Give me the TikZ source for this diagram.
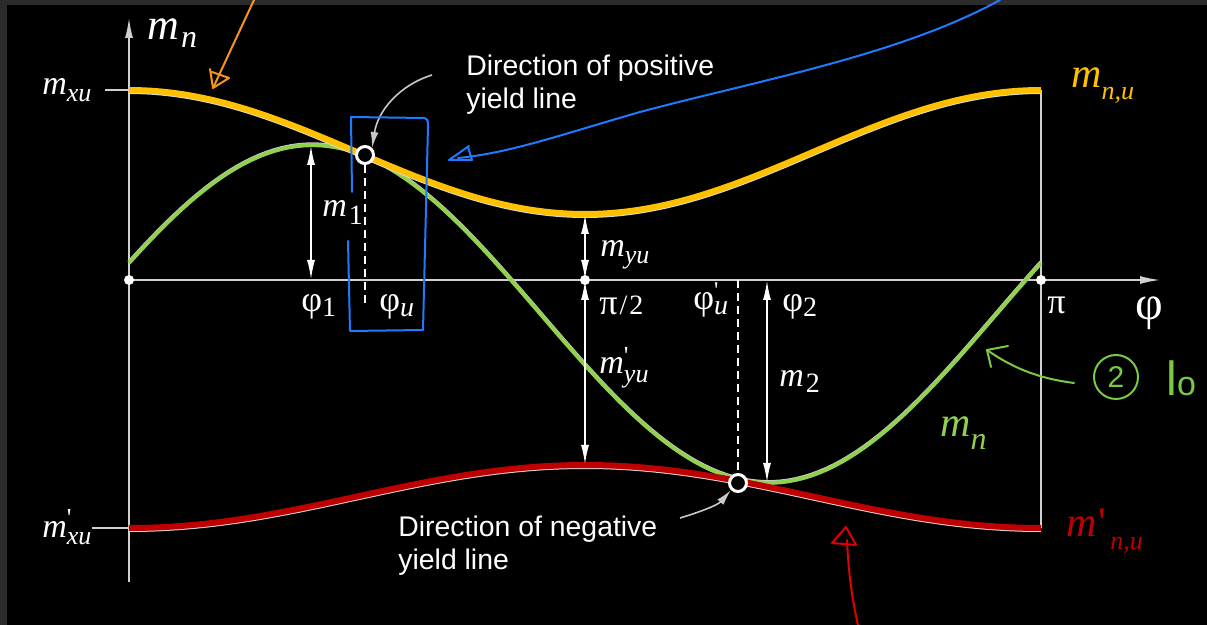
\documentclass[tikz,border=0pt]{standalone}
\usepackage{fontspec}
\setmainfont{Liberation Sans}
\newfontfamily\tms{Liberation Serif}
\usetikzlibrary{arrows.meta}
\definecolor{bggray}{HTML}{2B2B2B}
\definecolor{cOrange}{HTML}{FFC000}
\definecolor{cGreen}{HTML}{92D050}
\definecolor{cRed}{HTML}{C00000}
\definecolor{cAxis}{HTML}{D0D0D0}
\definecolor{cCall}{HTML}{C8C8C8}
\definecolor{hBlue}{HTML}{1E7BFF}
\definecolor{hOrange}{HTML}{F7941D}
\definecolor{hGreen}{HTML}{7AC943}
\definecolor{hRed}{HTML}{E00000}
\newcommand\fsz[1]{\fontsize{#1pt}{#1pt}\selectfont\tms}
\newcommand\lowr[2]{\raisebox{-#1pt}{#2}}
\begin{document}
\begin{tikzpicture}[x=0.5pt,y=-0.5pt,
  axisline/.style={draw=cAxis, line width=0.75pt},
  axtip/.style={-{Latex[length=10pt,width=4pt]}},
  dimarrow/.style={draw=white, line width=1pt, {Latex[length=10pt,width=4pt]}-{Latex[length=10pt,width=4pt]}},
  dashline/.style={draw=white, line width=0.75pt, dash pattern=on 4pt off 2.5pt},
  lbl/.style={inner sep=0pt, text=white, anchor=base west},
  dotnode/.style={circle, fill=white, inner sep=0pt, minimum size=5pt},
  ringnode/.style={circle, draw=white, fill=black, line width=1.5pt, inner sep=0pt, minimum size=8.5pt},
  callout/.style={draw=cCall, line width=0.8pt, -{Latex[length=8pt,width=4pt]}},
  hand/.style={line width=1pt, line cap=round, line join=round},
  txt/.style={inner sep=0pt, text=white, anchor=north west, align=left, font=\fontsize{14.2pt}{16.5pt}\selectfont},
  ]
\fill[bggray] (0,0) rectangle (1207,625);
\fill[black] (7,5) rectangle (1207,625);
\useasboundingbox (0,0) rectangle (1207,625);

% coordinates
\coordinate (O) at (129,280);
\coordinate (ytop) at (129,18);
\coordinate (ybot) at (129,582);
\coordinate (xend) at (1160,280);
\coordinate (half) at (585,280);
\coordinate (pi) at (1041,280);
\coordinate (oxu) at (129,90);
\coordinate (oxuT) at (105,90);
\coordinate (rxu) at (129,528);
\coordinate (rxuT) at (92,528);
\coordinate (oend) at (1041,90);
\coordinate (rend) at (1041,528);
\coordinate (gmax) at (311,145);
\coordinate (gmaxA) at (311,280);
\coordinate (oyu) at (585,214);
\coordinate (ryu) at (585,465);
\coordinate (gmin) at (767,483);
\coordinate (gminA) at (767,280);
\coordinate (phiuA) at (365,303);
\coordinate (phiupA) at (738,280);

% axes
\draw[axisline, axtip] (ybot) -- (ytop);
\draw[axisline, axtip] (O) -- (xend);
\draw[axisline] (oxuT) -- (oxu);
\draw[axisline] (rxuT) -- (rxu);
\draw[axisline] (oend) -- (rend);

% curves
\draw[white!80!black, line width=2pt] plot[domain=0:180, samples=120, variable=\t] ({129+5.06667*\t}, {280-(-34+51*cos(2*\t)+161*sin(2*\t))-0.8});
\draw[cGreen, line width=2pt] plot[domain=0:180, samples=120, variable=\t] ({129+5.06667*\t}, {280-(-34+51*cos(2*\t)+161*sin(2*\t))});
\draw[white!85!black, line width=3pt] plot[domain=0:180, samples=120, variable=\t] ({129+5.06667*\t}, {280-(128+62*cos(2*\t))+1});
\draw[cOrange, line width=3pt] plot[domain=0:180, samples=120, variable=\t] ({129+5.06667*\t}, {280-(128+62*cos(2*\t))});
\draw[white!85!black, line width=3pt] plot[domain=0:180, samples=120, variable=\t] ({129+5.06667*\t}, {280+216.5+31.5*cos(2*\t)+1});
\draw[cRed, line width=3pt] plot[domain=0:180, samples=120, variable=\t] ({129+5.06667*\t}, {280+216.5+31.5*cos(2*\t)});

% dimension arrows
\draw[dimarrow] (gmax) -- (gmaxA);
\draw[dimarrow] (oyu) -- (half);
\draw[dimarrow] (half) -- (ryu);
\draw[dimarrow] (gminA) -- (gmin);

% dots and rings
\node[dotnode] (d0) at (O) {};
\node[dotnode] (d1) at (half) {};
\node[dotnode] (d2) at (pi) {};
\node[ringnode] (rpos) at (365,155) {};
\node[ringnode] (rneg) at (738,483) {};
\draw[dashline] (rpos) -- (phiuA);
\draw[dashline] (phiupA) -- (rneg);

% callout texts and arrows
\node[txt] (tpos) at (466,55) {Direction of positive\\yield line};
\node[txt] (tneg) at (398,516) {Direction of negative\\yield line};
\coordinate (cp0) at (432,75);
\coordinate (cn0) at (680,518);
\draw[callout] (cp0) .. controls (400,85) and (378,110) .. (rpos.north east);
\draw[callout] (cn0) .. controls (700,512) and (718,505) .. (rneg.south west);

% math labels
\node[lbl] (lmn) at (147,40) {\fsz{22}\itshape m\kern1pt\lowr{4}{\fsz{16}n}};
\node[lbl] (lmxu) at (42,95) {\fsz{17}\itshape m\lowr{3.5}{\fsz{13}xu}};
\node[lbl] (lmxup) at (42,538) {\fsz{17}\itshape m\lowr{3.5}{\fsz{13}\rlap{\raisebox{9pt}{\upshape '}}xu}};
\node[lbl, text=cOrange] (lmnu) at (1071,88) {\fsz{21}\itshape m\lowr{6}{\fsz{13}n,u}};
\node[lbl, text=cRed] (lmnup) at (1066,537) {\fsz{21}\itshape m\kern1pt{\fsz{21}\upshape '}\kern2pt\lowr{6.5}{\fsz{13}n,u}};
\node[lbl, text=cGreen] (lmng) at (940,437) {\fsz{21}\itshape m\lowr{6.5}{\fsz{16}n}};
\node[lbl] (lm1) at (322,217) {\fsz{17}\itshape m\kern1pt\lowr{4}{\fsz{14}\upshape 1}};
\node[lbl] (lm2) at (779,387) {\fsz{17}\itshape m\kern1pt\lowr{3}{\fsz{14}\upshape 2}};
\node[lbl] (lmyu) at (600,257) {\fsz{17}\itshape m\lowr{3.5}{\fsz{13}yu}};
\node[lbl] (lmyup) at (599,374) {\fsz{17}\itshape m\lowr{4.5}{\fsz{13}\rlap{\raisebox{9pt}{\upshape '}}yu}};
\node[lbl] (lphi1) at (301,312) {\fsz{18}φ\lowr{2.5}{\fsz{14}1}};
\node[lbl] (lphiu) at (379,312) {\fsz{18}φ\lowr{2.5}{\fsz{14}\itshape u}};
\node[lbl] (lhalf) at (599,315) {\fsz{18}π\kern1pt{\fsz{14}/\kern1pt2}};
\node[lbl] (lphiup) at (693,310) {\fsz{18}φ\lowr{2.5}{\fsz{14}\rlap{\raisebox{8pt}{\fsz{12}'}}\itshape u}};
\node[lbl] (lphi2) at (782,312) {\fsz{18}φ\lowr{2.5}{\fsz{14}2}};
\node[lbl] (lpi) at (1047,314) {\fsz{18}π};
\node[lbl] (lphi) at (1135,320) {\fsz{24}φ};

% hand-drawn annotations
% orange
\coordinate (ho0) at (254,0);
\coordinate (ho1) at (214,86);
\draw[hand, hOrange] (ho0) .. controls (240,30) and (226,60) .. (ho1);
\draw[hand, hOrange] (210,69) -- (213,88) -- (229,78) -- (212,72);
% blue box
\draw[hand, hBlue] (352,192) -- (351,117) -- (424,118) .. controls (428,119) and (428,121) .. (428,126) -- (423,330) -- (350,331) -- (348,241);
% blue long stroke
\coordinate (hb0) at (1000,0);
\coordinate (hb1) at (458,158);
\draw[hand, hBlue] (hb0) .. controls (900,55) and (760,80) .. (640,112) .. controls (560,135) and (510,153) .. (hb1);
\draw[hand, hBlue] (469,146) -- (449,160) -- (472,160) -- (468,147);
% green
\node[circle, draw=hGreen, line width=1pt, minimum size=22pt, inner sep=0pt, text=hGreen, font=\fontsize{15pt}{15pt}\selectfont] (two) at (1116,377) {2};
\node[inner sep=0pt, anchor=base west, text=hGreen, font=\fontsize{24pt}{24pt}\selectfont] (lo) at (1166,396) {l\fontsize{17pt}{17pt}\selectfont o};
\coordinate (hg0) at (1074,383);
\coordinate (hg1) at (987,350);
\draw[hand, hGreen] (hg0) .. controls (1035,378) and (1010,366) .. (hg1);
\draw[hand, hGreen] (1008,346) -- (hg1) -- (991,367);
% red
\coordinate (hr0) at (858,625);
\coordinate (hr1) at (847,540);
\draw[hand, hRed] (hr0) .. controls (851,595) and (848,565) .. (hr1);
\draw[hand, hRed] (846,527) -- (832,543) -- (856,545) -- cycle;
\end{tikzpicture}
\end{document}
